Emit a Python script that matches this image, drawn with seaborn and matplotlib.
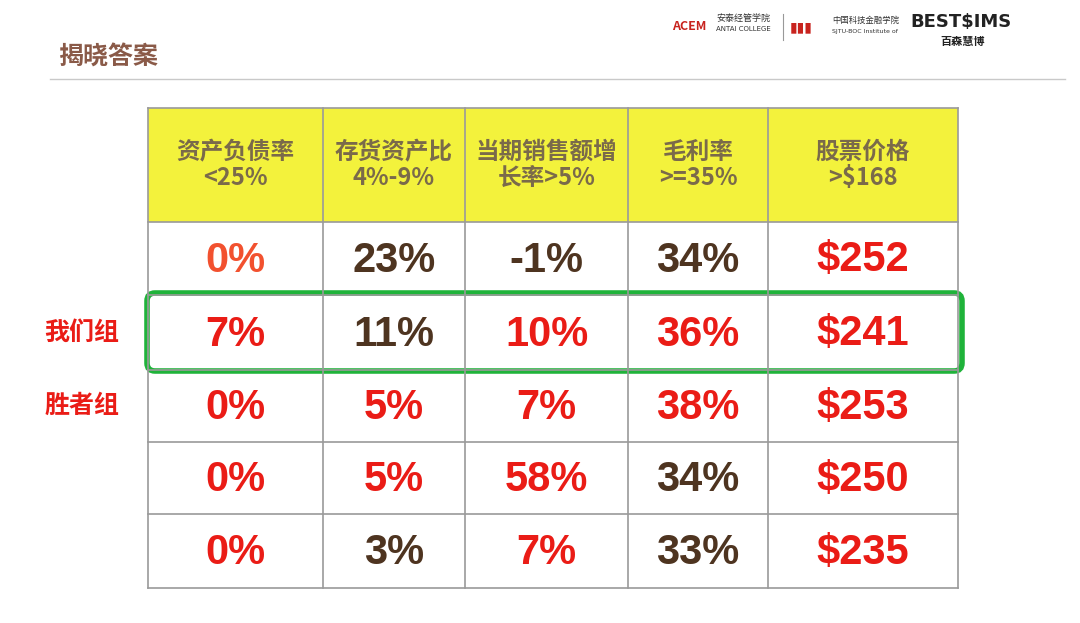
import numpy as np
import pandas as pd
import seaborn as sns
import matplotlib
matplotlib.use("Agg")
import matplotlib.pyplot as plt
from matplotlib.colors import ListedColormap
from matplotlib.patches import FancyBboxPatch

plt.rcParams["font.family"] = ["Noto Sans CJK SC", "DejaVu Sans"]

headers = ["资产负债率\n<25%", "存货资产比\n4%-9%", "当期销售额增\n长率>5%", "毛利率\n>=35%", "股票价格\n>$168"]
row1 = ["0%", "23%", "-1%", "34%", "$252"]
row2 = ["7%", "11%", "10%", "36%", "$241"]
row3 = ["0%", "5%", "7%", "38%", "$253"]
row4 = ["0%", "5%", "58%", "34%", "$250"]
row5 = ["0%", "3%", "7%", "33%", "$235"]
# color codes: 0 red, 1 brown, 2 orange-red
col1 = [2, 1, 1, 1, 0]
col2 = [0, 1, 0, 0, 0]
col3 = [0, 0, 0, 0, 0]
col4 = [0, 0, 0, 1, 0]
col5 = [0, 1, 0, 1, 0]
row_labels = ["", "", "我们组", "胜者组", "", ""]

W, H = 1080, 623
fig = plt.figure(figsize=(W/100, H/100), dpi=100)
fig.patch.set_facecolor("white")

col_edges = [148, 323, 465, 628, 768, 958]
row_edges = [108, 222, 295, 370, 442, 514, 588]
L, R, T, B = 148, 958, 108, 588

# seaborn heatmaps for cell backgrounds (header yellow, body white)
axh = fig.add_axes([L/W, 1-row_edges[1]/H, (R-L)/W, (row_edges[1]-T)/H])
sns.heatmap(pd.DataFrame([[1]*5]), ax=axh, cmap=ListedColormap(["#f3f23c"]), cbar=False,
            xticklabels=False, yticklabels=False)
axh.set_axis_off()
axb = fig.add_axes([L/W, 1-B/H, (R-L)/W, (B-row_edges[1])/H])
sns.heatmap(pd.DataFrame([[0]*5]*5), ax=axb, cmap=ListedColormap(["white"]), cbar=False,
            xticklabels=False, yticklabels=False)
axb.set_axis_off()

ax2 = fig.add_axes([0, 0, 1, 1])
ax2.set_xlim(0, W); ax2.set_ylim(H, 0); ax2.set_axis_off()
ax2.patch.set_alpha(0)
for x in col_edges:
    ax2.plot([x, x], [T, B], color="#9a9a9a", lw=1.2)
for y in row_edges:
    ax2.plot([L, R], [y, y], color="#9a9a9a", lw=1.2)

cmap_txt = {0: "#ea1c16", 1: "#4e3420", 2: "#f2512f"}
for j, h in enumerate(headers):
    cx = (col_edges[j] + col_edges[j+1]) / 2
    ax2.text(cx, (row_edges[0]+row_edges[1])/2, h, ha="center", va="center",
             fontsize=17, color="#7a6a4a", fontweight="bold", linespacing=1.1)
for i, (vals, cs) in enumerate(zip(values := [row1, row2, row3, row4, row5],
                                   [col1, col2, col3, col4, col5])):
    cy = (row_edges[i+1] + row_edges[i+2]) / 2
    for j, (v, c) in enumerate(zip(vals, cs)):
        cx = (col_edges[j] + col_edges[j+1]) / 2
        ax2.text(cx, cy + 2, v, ha="center", va="center", fontsize=30,
                 fontweight="bold", color=cmap_txt[c], family="Liberation Sans")
for i, lab in enumerate(row_labels):
    if lab:
        cy = (row_edges[i] + row_edges[i+1]) / 2
        ax2.text(82, cy, lab, ha="center", va="center", fontsize=18,
                 fontweight="bold", color="#ea1c16")

ax2.add_patch(FancyBboxPatch((147, 293), 815, 78, boxstyle="round,pad=0,rounding_size=8",
                             fill=False, ec="#1fb33a", lw=4))

ax2.text(58, 58, "揭晓答案", ha="left", va="center", fontsize=18, color="#8a5a48", fontweight="bold")
ax2.plot([50, 1065], [79, 79], color="#c9c9c9", lw=1)
ax2.text(672, 27, "ACEM", fontsize=9, color="#c8231e", fontweight="bold", va="center")
ax2.text(716, 19, "安泰经管学院", fontsize=6.5, color="#333", va="center")
ax2.text(716, 29, "ANTAI COLLEGE", fontsize=5, color="#333", va="center", family="DejaVu Sans")
ax2.plot([783, 783], [14, 40], color="#999", lw=0.8)
ax2.text(790, 27, "▮▮▮", fontsize=10, color="#c8231e", va="center")
ax2.text(832, 20, "中国科技金融学院", fontsize=6, color="#333", va="center")
ax2.text(832, 31, "SJTU-BOC Institute of", fontsize=4.5, color="#333", va="center", family="DejaVu Sans")
ax2.text(910, 22, "BEST$IMS", fontsize=13, color="#222", fontweight="bold", va="center", family="DejaVu Sans")
ax2.text(940, 41, "百森慧博", fontsize=8, color="#222", va="center", fontweight="bold")

fig.savefig("out.png", dpi=100)
